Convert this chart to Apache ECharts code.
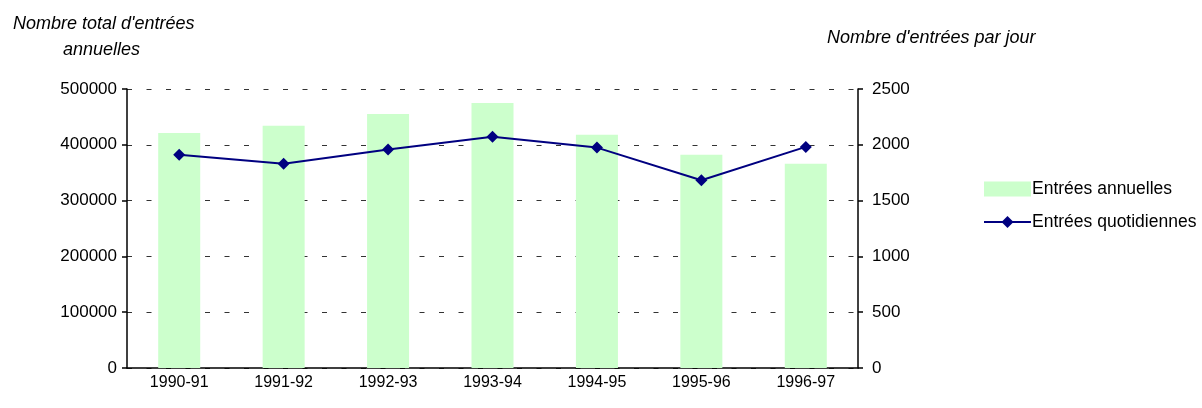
<!DOCTYPE html>
<html>
<head>
<meta charset="utf-8">
<script src="https://cdn.jsdelivr.net/npm/echarts@6/dist/echarts.min.js"></script>
<style>
  html, body { margin: 0; padding: 0; background: #fff; }
  #main { width: 1202px; height: 408px; }
</style>
</head>
<body>
<div id="main"></div>
<script>
// data
var seasons = ["1990-91", "1991-92", "1992-93", "1993-94", "1994-95", "1995-96", "1996-97"];
var annualEntries = [421000, 434000, 455000, 475000, 418000, 382000, 366000];
var dailyEntries = [1910, 1830, 1957, 2073, 1975, 1683, 1981];
var leftTicks = [0, 100000, 200000, 300000, 400000, 500000];
var rightTicks = [0, 500, 1000, 1500, 2000, 2500];

var myChart = echarts.init(document.getElementById("main"));

var font = "'Liberation Sans', Arial, sans-serif";
var plain = function (v) { return String(v); };

var option = {
  animation: false,
  textStyle: { fontFamily: font },
  title: [
    {
      text: "Nombre total d'entrées\n          annuelles",
      left: 8,
      top: 6,
      textStyle: { fontFamily: font, fontSize: 18, fontStyle: "italic", fontWeight: "normal", color: "#000", lineHeight: 26 }
    },
    {
      text: "Nombre d'entrées par jour",
      left: 822,
      top: 24,
      textStyle: { fontFamily: font, fontSize: 18, fontStyle: "italic", fontWeight: "normal", color: "#000" }
    }
  ],
  legend: {
    orient: "vertical",
    left: 978,
    top: 175,
    itemWidth: 47,
    itemHeight: 15,
    itemGap: 15,
    textStyle: { fontFamily: font, fontSize: 17.5, color: "#000", padding: [0, 0, 0, -4] },
    data: [
      { name: "Entrées annuelles", icon: "rect" },
      { name: "Entrées quotidiennes" }
    ]
  },
  grid: { left: 127, right: 344, top: 89, bottom: 40 },
  xAxis: {
    type: "category",
    data: seasons,
    axisLine: { lineStyle: { color: "#000", width: 1.5 } },
    axisTick: { length: 6, lineStyle: { color: "#000", width: 1.5 } },
    axisLabel: { color: "#000", fontSize: 16, margin: 7 }
  },
  yAxis: [
    {
      type: "value",
      min: leftTicks[0],
      max: leftTicks[leftTicks.length - 1],
      interval: leftTicks[1] - leftTicks[0],
      axisLine: { show: true, lineStyle: { color: "#000", width: 1.5 } },
      axisTick: { show: true, length: 5, lineStyle: { color: "#000", width: 1.5 } },
      axisLabel: { color: "#000", fontSize: 17, margin: 10, formatter: plain },
      splitLine: { show: true, lineStyle: { color: "#333", width: 1, type: [5, 14.5] } }
    },
    {
      type: "value",
      min: rightTicks[0],
      max: rightTicks[rightTicks.length - 1],
      interval: rightTicks[1] - rightTicks[0],
      position: "right",
      axisLine: { show: true, lineStyle: { color: "#000", width: 1.5 } },
      axisTick: { show: true, length: 5, lineStyle: { color: "#000", width: 1.5 } },
      axisLabel: { color: "#000", fontSize: 17, margin: 14, formatter: plain },
      splitLine: { show: false }
    }
  ],
  series: [
    {
      name: "Entrées annuelles",
      type: "bar",
      yAxisIndex: 0,
      barWidth: 42,
      itemStyle: { color: "#ccffcc" },
      data: annualEntries
    },
    {
      name: "Entrées quotidiennes",
      type: "line",
      yAxisIndex: 1,
      symbol: "diamond",
      symbolSize: 12,
      lineStyle: { color: "#000080", width: 2 },
      itemStyle: { color: "#000080" },
      data: dailyEntries
    }
  ]
};

myChart.setOption(option);
</script>
</body>
</html>
